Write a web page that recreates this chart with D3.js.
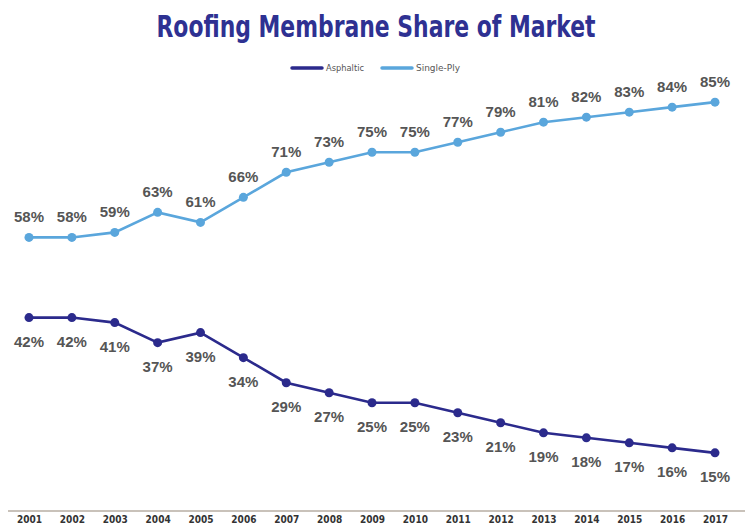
<!DOCTYPE html>
<html lang="en">
<head>
  <meta charset="UTF-8">
  <script src="https://d3js.org/d3.v7.min.js"></script>
  <title>Roofing Membrane Share of Market</title>
  <style>
    body { margin: 0; background: #fff; }
    .title {
      font-family: "DejaVu Sans Condensed", "DejaVu Sans", sans-serif;
      font-stretch: condensed;
      font-weight: bold;
      fill: #2e3192;
    }
    .legend text {
      font-family: "DejaVu Sans Condensed", "DejaVu Sans", sans-serif;
      font-stretch: condensed;
      font-size: 9px;
      fill: #555;
    }
    .val {
      font-family: "Liberation Sans", Arial, sans-serif;
      font-weight: bold;
      font-size: 15px;
      fill: #555;
    }
    .year {
      font-family: "DejaVu Sans Condensed", "DejaVu Sans", sans-serif;
      font-stretch: condensed;
      font-weight: bold;
      font-size: 10px;
      fill: #333;
    }
  </style>
</head>
<body>
<div id="chart"></div>
<script>
  // chart values
  const years = [2001, 2002, 2003, 2004, 2005, 2006, 2007, 2008, 2009, 2010, 2011, 2012, 2013, 2014, 2015, 2016, 2017];
  const singlePly = [58, 58, 59, 63, 61, 66, 71, 73, 75, 75, 77, 79, 81, 82, 83, 84, 85];
  const asphaltic = [42, 42, 41, 37, 39, 34, 29, 27, 25, 25, 23, 21, 19, 18, 17, 16, 15];
  const seriesNames = ["Asphaltic", "Single-Ply"];
  const seriesColors = ["#2b2a8c", "#5aa6dc"];

  const width = 748, height = 531;

  const svg = d3.select("#chart").append("svg")
    .attr("width", width)
    .attr("height", height);

  const x = d3.scalePoint()
    .domain(years)
    .range([29, 715]);

  const y = d3.scaleLinear()
    .domain([0, 100])
    .range([528, 27]);

  // title
  svg.append("text")
    .attr("class", "title")
    .attr("x", 376)
    .attr("y", 37)
    .attr("text-anchor", "middle")
    .attr("font-size", 31)
    .attr("textLength", 439)
    .attr("lengthAdjust", "spacingAndGlyphs")
    .text("Roofing Membrane Share of Market");

  // legend
  const legend = svg.append("g").attr("class", "legend");
  const legendX = [292, 382];
  const legendW = [38, 44];
  seriesNames.forEach((name, i) => {
    const g = legend.append("g").attr("transform", `translate(${legendX[i]},68)`);
    g.append("line")
      .attr("x1", 0).attr("x2", 30)
      .attr("stroke", seriesColors[i])
      .attr("stroke-width", 3.5)
      .attr("stroke-linecap", "round");
    g.append("text")
      .attr("x", 34)
      .attr("y", 3)
      .attr("textLength", legendW[i])
      .attr("lengthAdjust", "spacingAndGlyphs")
      .text(name);
  });

  // baseline
  svg.append("line")
    .attr("x1", 8).attr("x2", 745)
    .attr("y1", 511).attr("y2", 511)
    .attr("stroke", "#c9c2ba")
    .attr("stroke-width", 2);

  // x axis labels
  const xAxis = d3.axisBottom(x).tickSize(0).tickPadding(0);
  const axisG = svg.append("g")
    .attr("transform", "translate(0,516)")
    .call(xAxis);
  axisG.select(".domain").remove();
  axisG.selectAll("text")
    .attr("class", "year")
    .attr("dy", "0.71em")
    .attr("font-size", null)
    .attr("font-family", null)
    .attr("fill", null);

  const series = [
    { name: "Asphaltic", values: asphaltic, color: seriesColors[0], dy: 29 },
    { name: "Single-Ply", values: singlePly, color: seriesColors[1], dy: -15 }
  ];

  const line = d3.line()
    .x((d, i) => x(years[i]))
    .y(d => y(d));

  series.forEach(s => {
    const g = svg.append("g");
    g.append("path")
      .datum(s.values)
      .attr("fill", "none")
      .attr("stroke", s.color)
      .attr("stroke-width", 2.6)
      .attr("d", line);

    g.selectAll("circle")
      .data(s.values)
      .enter()
      .append("circle")
      .attr("cx", (d, i) => x(years[i]))
      .attr("cy", d => y(d))
      .attr("r", 4.5)
      .attr("fill", s.color);

    g.selectAll("text")
      .data(s.values)
      .enter()
      .append("text")
      .attr("class", "val")
      .attr("x", (d, i) => x(years[i]))
      .attr("y", d => y(d) + s.dy)
      .attr("text-anchor", "middle")
      .text(d => d + "%");
  });
</script>
</body>
</html>
